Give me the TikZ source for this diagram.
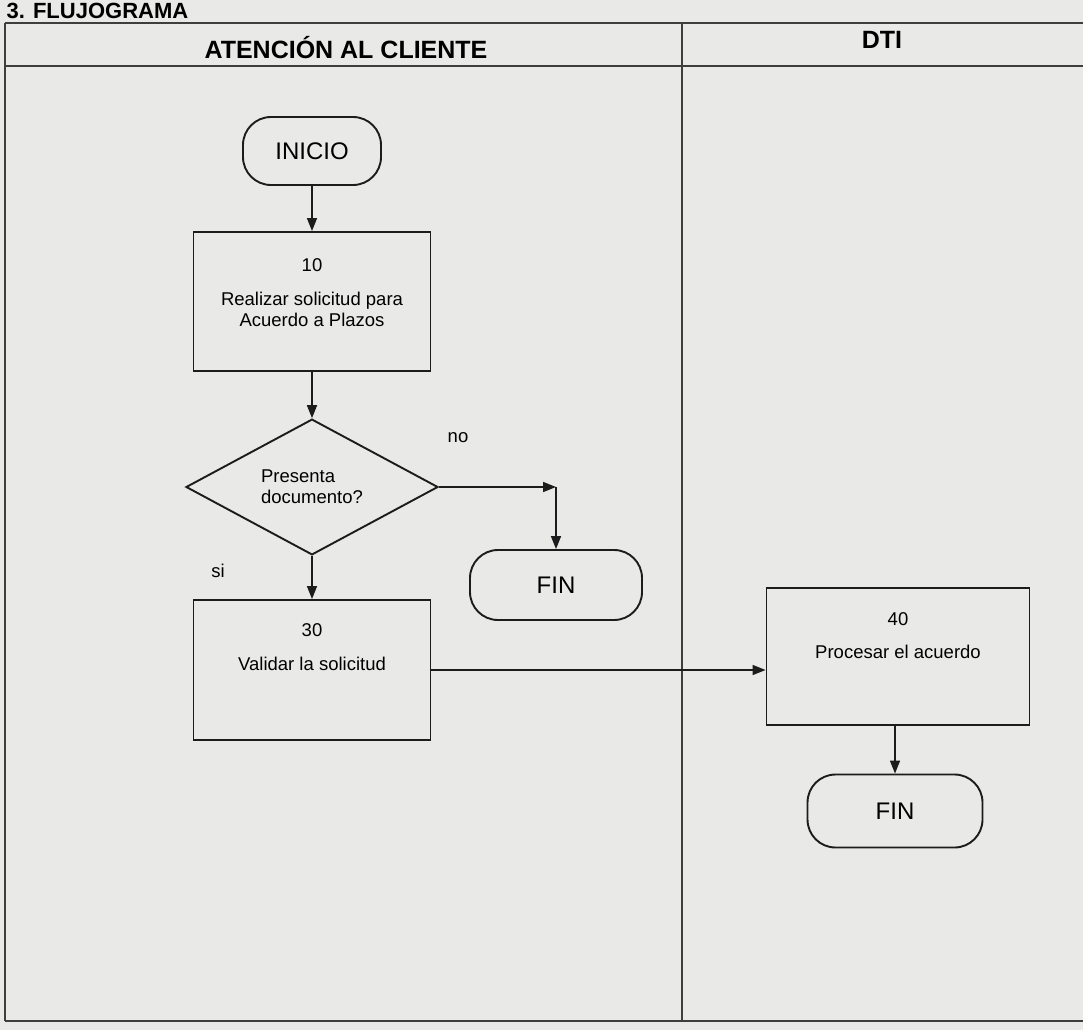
\documentclass[tikz,border=0pt]{standalone}
\usepackage{fontspec}
\setmainfont{Liberation Sans}
\usetikzlibrary{positioning,shapes.geometric,arrows.meta}
\definecolor{paper}{RGB}{233,234,231}
\definecolor{ink}{RGB}{28,28,28}
\begin{document}
\begin{tikzpicture}[x=1pt,y=-1pt,
  frame/.style={draw=ink!85,line width=1.5pt},
  box/.style={draw=ink,line width=1.9pt,minimum width=237pt,minimum height=139pt},
  term/.style={draw=ink,line width=1.9pt,rounded corners=28pt,font=\fontsize{24pt}{28pt}\selectfont},
  dec/.style={diamond,draw=ink,line width=1.9pt,minimum width=252pt,minimum height=131pt,inner sep=0pt,align=left,font=\fontsize{18.5pt}{21pt}\selectfont},
  txt/.style={align=center,inner sep=0pt,font=\fontsize{18.5pt}{21pt}\selectfont},
  lbl/.style={font=\fontsize{18.5pt}{21pt}\selectfont},
  head/.style={font=\fontsize{25pt}{29pt}\selectfont\bfseries},
  arr/.style={draw=ink,line width=1.6pt,-{Triangle[length=13pt,width=10pt]}}]
\fill[paper] (0,0) rectangle (1083,1030);
\useasboundingbox (0,0) rectangle (1083,1030);
% tabla
\foreach \y in {23,66,1021} {
\draw[frame] (5,\y) -- (1090,\y);
}
\draw[frame] (5,23) -- (5,1021);
\draw[frame] (682,23) -- (682,1021);
\node[anchor=base west,font=\fontsize{22pt}{26pt}\selectfont\bfseries] (titulo) at (3,19) {3. FLUJOGRAMA};
\node[head] (area1) at (346,48) {ATENCIÓN AL CLIENTE};
\node[head] (area2) at (882,40) {DTI};
% atencion al cliente
\node[term,minimum width=138pt,minimum height=68pt] (inicio) at (312,151) {INICIO};
\node[box] (p10) at (312,301.5) {};
\node[txt,below=27pt of p10.north] (t10) {10\\[13pt]Realizar solicitud para\\Acuerdo a Plazos};
\node[dec] (q20) at (312,487) {Presenta\\documento?};
\node[lbl] (lno) at (458,438) {no};
\node[lbl] (lsi) at (218,571) {si};
\node[term,minimum width=172pt,minimum height=70pt] (fin1) at (556,585) {FIN};
\node[box,minimum height=140pt] (p30) at (312,670) {};
\node[txt,below=24pt of p30.north] (t30) {30\\[13pt]Validar la solicitud};
% dti
\node[box,minimum width=263pt,minimum height=137pt] (p40) at (898,656.5) {};
\node[txt,below=25pt of p40.north] (t40) {40\\[12pt]Procesar el acuerdo};
\node[term,minimum width=175pt,minimum height=73pt] (fin2) at (895,811) {FIN};
% flechas
\draw[arr] (inicio) -- (p10);
\draw[arr] (p10) -- (q20);
\draw[arr] (q20) -- (p30);
\coordinate (no) at (q20.east -| fin1.north);
\draw[arr] (q20.east) -- (no);
\draw[arr] (no) -- (fin1);
\draw[arr] (p30.east) -- (p30.east -| p40.west);
\draw[arr] (p40.south -| fin2) -- (fin2);
\end{tikzpicture}
\end{document}
